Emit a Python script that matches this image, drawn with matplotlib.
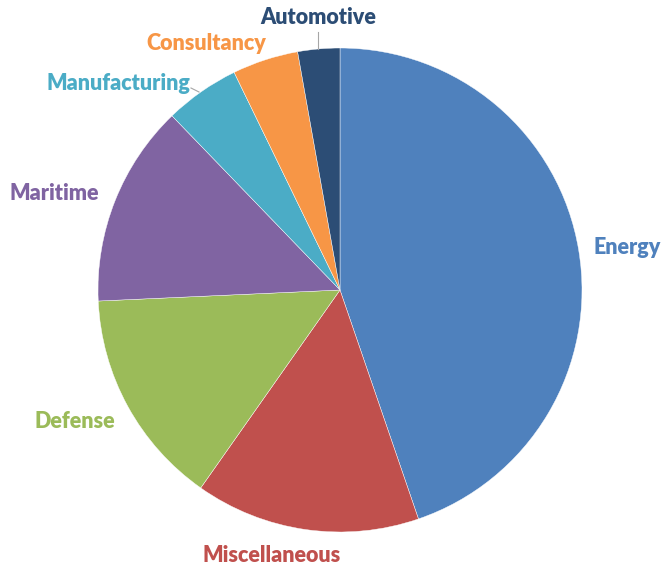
import matplotlib.pyplot as plt

# slice data, clockwise from 12 o'clock
sectors = ["Energy", "Miscellaneous", "Defense", "Maritime",
           "Manufacturing", "Consultancy", "Automotive"]
shares = [44.7, 15.0, 14.5, 13.5, 5.0, 4.4, 2.8]
colors = ["#4F81BD", "#C0504D", "#9BBB59", "#8064A2",
          "#4BACC6", "#F79646", "#2C4D75"]

W, H = 662, 567
cx, cy, r = 340, 290, 242

fig = plt.figure(figsize=(W / 100, H / 100), dpi=100)
ax = fig.add_axes([(cx - r) / W, (H - cy - r) / H, 2 * r / W, 2 * r / H])
ax.pie(shares, colors=colors, startangle=90, counterclock=False, radius=1,
       wedgeprops=dict(edgecolor="white", linewidth=0.3))
ax.set_xlim(-1, 1)
ax.set_ylim(-1, 1)
ax.axis("off")


def px(x, y):
    # pixel position in the image -> data coords of the pie axes
    return (x - cx) / r, (cy - y) / r


label_px = {
    "Energy": (627, 248),
    "Miscellaneous": (272, 555),
    "Defense": (75, 422),
    "Maritime": (54, 194),
    "Manufacturing": (118, 83),
    "Consultancy": (206, 44),
    "Automotive": (318, 18),
}
for name, col in zip(sectors, colors):
    x, y = px(*label_px[name])
    ax.text(x, y, name, color=col, fontsize=15.5, fontweight="heavy",
            family="Lato", ha="center", va="center", clip_on=False)

# leader lines for the two small slices
for (x0, y0), (x1, y1) in [((318, 32), (318, 49)), ((191, 88), (199, 92))]:
    a, b = px(x0, y0)
    c, d = px(x1, y1)
    ax.plot([a, c], [b, d], color="#A6A6A6", lw=0.8, clip_on=False)

fig.savefig("out.png", dpi=100)
